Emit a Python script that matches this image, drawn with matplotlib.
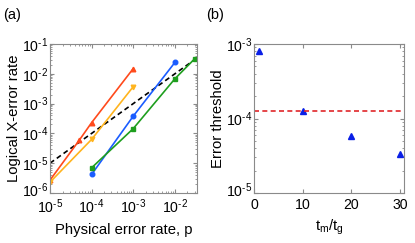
import matplotlib
matplotlib.use("Agg")
import matplotlib.pyplot as plt
import matplotlib.transforms as mtransforms
import numpy as np
from matplotlib.ticker import LogLocator, FixedLocator, NullFormatter, FuncFormatter

plt.rcParams['font.family'] = ['Liberation Sans', 'DejaVu Sans']
plt.rcParams['mathtext.fontset'] = 'custom'
plt.rcParams['mathtext.rm'] = 'Liberation Sans'
plt.rcParams['mathtext.it'] = 'Liberation Sans'

# Panel (a) data
red_p = [1e-5, 5e-5, 1e-4, 1e-3]
red_pl = [2.7e-6, 5.8e-5, 2.3e-4, 1.5e-2]
orange_p = [1e-5, 1e-4, 1e-3]
orange_pl = [2.3e-6, 6.3e-5, 3.7e-3]
blue_p = [1e-4, 1e-3, 1e-2]
blue_pl = [4.2e-6, 3.8e-4, 2.4e-2]
green_p = [1e-4, 1e-3, 1e-2, 3e-2]
green_pl = [7e-6, 1.45e-4, 6.8e-3, 3.2e-2]
ref_p = [1e-5, 3e-2]

# Panel (b) data
ratio = [1, 10, 20, 30]
threshold = [8.1e-4, 1.25e-4, 5.9e-5, 3.3e-5]
threshold_ref = 1.28e-4


def pow_fmt(v, pos):
    e = int(round(np.log10(v)))
    if e < 0:
        return r'$\mathregular{10^{\text{-}%d}}$' % (-e)
    return r'$\mathregular{10^{%d}}$' % e


fig = plt.figure(figsize=(4.15, 2.43), dpi=100)
W, H = 415, 243
ax1 = fig.add_axes([50/W, 1-193/H, 147/W, 149/H])
ax2 = fig.add_axes([254/W, 1-193/H, 150/W, 149/H])

spine_c = '#8a8a8a'
ms = 3.3
ax1.plot(ref_p, ref_p, ls=(0, (3, 2)), color='black', lw=1.2, zorder=1)
ax1.plot(red_p, red_pl, '-^', color='#ff4a1c', lw=1.2, ms=ms)
ax1.plot(orange_p, orange_pl, '-v', color='#ffb41e', lw=1.2, ms=ms)
ax1.plot(blue_p, blue_pl, '-o', color='#1a5cff', lw=1.2, ms=ms)
ax1.plot(green_p, green_pl, '-s', color='#1e9e1e', lw=1.2, ms=ms)
ax1.set_xscale('log')
ax1.set_yscale('log')
ax1.set_xlim(1e-5, 3.4e-2)
ax1.set_ylim(1e-6, 1e-1)
ax1.xaxis.set_major_locator(FixedLocator([1e-5, 1e-4, 1e-3, 1e-2]))
ax1.yaxis.set_major_locator(FixedLocator([1e-6, 1e-5, 1e-4, 1e-3, 1e-2, 1e-1]))
ax1.xaxis.set_major_formatter(FuncFormatter(pow_fmt))
ax1.yaxis.set_major_formatter(FuncFormatter(pow_fmt))
ax1.set_xlabel('Physical error rate, p', fontsize=10.7, labelpad=5)
ax1.set_ylabel('Logical X-error rate', fontsize=10.7, labelpad=1)

ax2.plot(ratio, threshold, '^', color='#0a1fe6', ms=4.5, ls='none')
ax2.axhline(threshold_ref, color='#e0262a', ls=(0, (3, 2)), lw=1.2)
ax2.set_yscale('log')
ax2.set_xlim(0, 30.8)
ax2.set_ylim(1e-5, 1e-3)
ax2.set_xticks([0, 10, 20, 30])
ax2.yaxis.set_major_locator(FixedLocator([1e-5, 1e-4, 1e-3]))
ax2.yaxis.set_major_formatter(FuncFormatter(pow_fmt))
ax2.set_xlabel(r'$\mathregular{t_m/t_g}$', fontsize=10.7, labelpad=4)
ax2.set_ylabel('Error threshold', fontsize=10.7, labelpad=1)

for ax in (ax1, ax2):
    for s in ax.spines.values():
        s.set_color(spine_c)
        s.set_linewidth(0.8)
    ax.tick_params(which='both', direction='in', top=True, right=True, colors=spine_c,
                   labelcolor='black', labelsize=10.2)
    ax.tick_params(axis='x', which='major', pad=3.5)
    ax.tick_params(axis='y', which='major', pad=1)
    ax.tick_params(which='major', length=3)
    ax.tick_params(which='minor', length=1.5)
    ax.yaxis.set_minor_locator(LogLocator(base=10, subs=np.arange(2, 10), numticks=20))
    ax.yaxis.set_minor_formatter(NullFormatter())
ax1.xaxis.set_minor_locator(LogLocator(base=10, subs=np.arange(2, 10), numticks=20))
ax1.xaxis.set_minor_formatter(NullFormatter())

# nudge the lowest y tick label up slightly so it does not collide with x labels
fig.canvas.draw()
shift = mtransforms.ScaledTranslation(0, 2.5/72, fig.dpi_scale_trans)
for ax in (ax1, ax2):
    t = ax.yaxis.get_major_ticks()[0]
    t.label1.set_transform(t.label1.get_transform() + shift)

fig.text(3/W, 1-15/H, '(a)', fontsize=10.5, va='center', ha='left')
fig.text(206/W, 1-15/H, '(b)', fontsize=10.5, va='center', ha='left')

fig.savefig('out.png', dpi=100)
